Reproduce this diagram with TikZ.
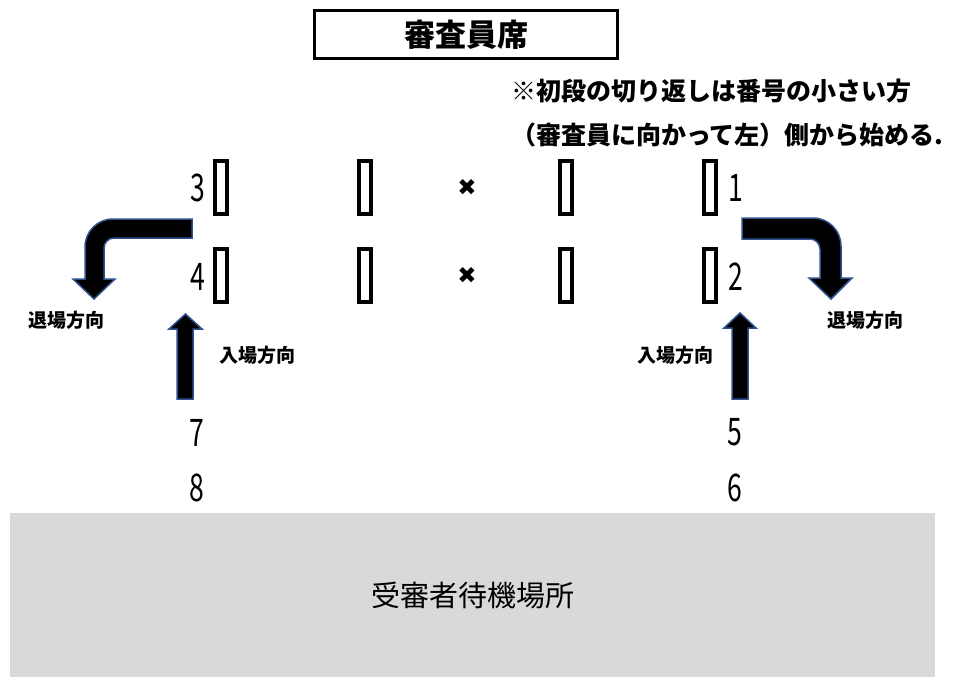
\documentclass[tikz,border=0pt]{standalone}
\usepackage{fontspec}
\setmainfont{Noto Sans CJK JP}
\newfontfamily\jp{Noto Sans CJK JP}
\newfontfamily\sym{DejaVu Sans}
\definecolor{arrowline}{HTML}{2F528F}
\definecolor{waitgray}{HTML}{D9D9D9}
\tikzset{
  lane/.style={draw=black, line width=4pt, minimum width=12pt, minimum height=53pt, inner sep=0pt, fill=white},
  num/.style={inner sep=0pt, font=\jp\fontsize{38}{38}\selectfont},
  dirlabel/.style={inner sep=0pt, font=\jp\bfseries\fontsize{19}{19}\selectfont},
  note/.style={inner sep=0pt, anchor=west, font=\jp\bfseries\fontsize{25}{25}\selectfont},
  bigarrow/.style={fill=black, draw=arrowline, line width=1.5pt, line join=miter},
  cross/.style={inner sep=0pt, font=\sym\fontsize{23}{23}\selectfont},
}
\newcommand{\narrow}[1]{\scalebox{0.7}[1]{#1}}
\begin{document}
\begin{tikzpicture}[x=1pt, y=-1pt]
\useasboundingbox (0,0) rectangle (953,677);
% judges
\node[draw=black, line width=3.5pt, minimum width=303pt, minimum height=48pt, inner sep=0pt, font=\jp\bfseries\fontsize{31}{31}\selectfont] (judges) at (466,34.5) {審査員席};
% note
\node[note] (note1) at (511,91) {※初段の切り返しは番号の小さい方};
\node[note] (note2) at (511,135) {（審査員に向かって左）側から始める.};
% lanes
\foreach \r/\y in {a/187, b/275}{
  \node[lane] (\r1) at (221,\y) {};
  \node[lane] (\r2) at (365,\y) {};
  \node[lane] (\r3) at (565.5,\y) {};
  \node[lane] (\r4) at (709.5,\y) {};
  \node[cross] (x\r) at (467,\y) {✖};
}
% numbers
\node[num] (n3) at (198,188) {\narrow{3}};
\node[num] (n4) at (198,277) {\narrow{4}};
\node[num] (n1) at (736,188) {\narrow{1}};
\node[num] (n2) at (736,277) {\narrow{2}};
\node[num] (n7) at (197,433) {\narrow{7}};
\node[num] (n8) at (197,488) {\narrow{8}};
\node[num] (n5) at (735,432) {\narrow{5}};
\node[num] (n6) at (735,488) {\narrow{6}};
% exit arrows
\draw[bigarrow] (192,219) -- (113,219) .. controls (97.5,219) and (85,231.5) .. (85,247)
  -- (85,279) -- (73,279) -- (94,299) -- (115,279) -- (104,279) -- (104,248)
  .. controls (104,242.5) and (108.5,238) .. (114,238) -- (192,238) -- cycle;
\draw[bigarrow] (742,218) -- (813,218) .. controls (828.5,218) and (841,230.5) .. (841,246)
  -- (841,278) -- (852,278) -- (831,299) -- (809,278) -- (820,278) -- (820,249)
  .. controls (820,243.5) and (815.5,239) .. (810,239) -- (742,239) -- cycle;
% entry arrows
\draw[bigarrow] (177,399) -- (177,329) -- (169,329) -- (185.5,314) -- (202,329) -- (193,329) -- (193,399) -- cycle;
\draw[bigarrow] (732,399) -- (732,328) -- (724,328) -- (740,313) -- (756,328) -- (748,328) -- (748,399) -- cycle;
% labels
\node[dirlabel] (exitL) at (66,320) {退場方向};
\node[dirlabel] (exitR) at (865,320) {退場方向};
\node[dirlabel] (entL) at (257,355) {入場方向};
\node[dirlabel] (entR) at (675,355) {入場方向};
% waiting area
\node[fill=waitgray, minimum width=925pt, minimum height=164pt, inner sep=0pt, anchor=north west, font=\jp\fontsize{29}{29}\selectfont] (wait) at (10,513) {受審者待機場所};
\end{tikzpicture}
\end{document}
